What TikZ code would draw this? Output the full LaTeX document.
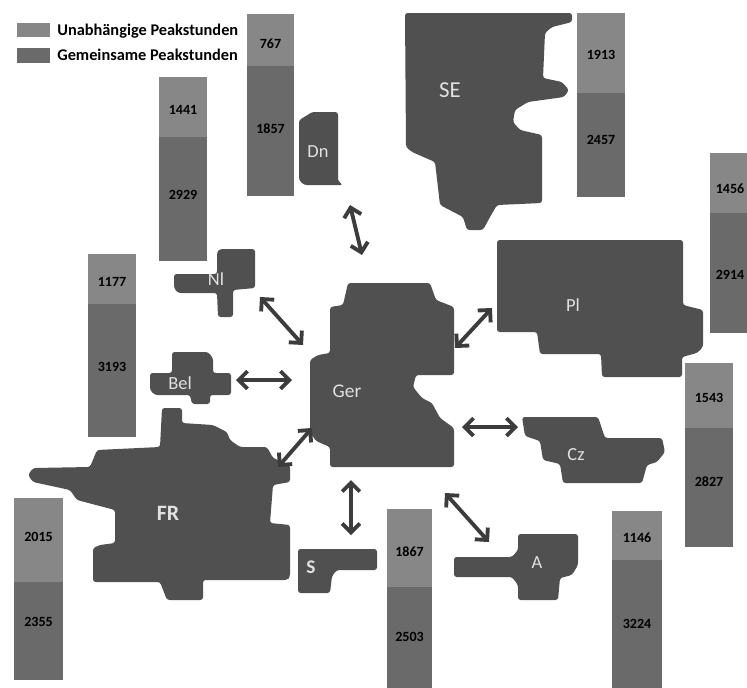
\documentclass[tikz,border=0pt]{standalone}
\usepackage{fontspec}
\setmainfont{Carlito}
\usetikzlibrary{arrows.meta}
\definecolor{lightbar}{RGB}{135,135,135}
\definecolor{darkbar}{RGB}{106,106,106}
\definecolor{land}{RGB}{80,80,80}
\definecolor{arrowgray}{RGB}{60,60,60}
\definecolor{lbl}{RGB}{225,225,225}
\tikzset{
  country/.style={fill=land, draw=none, rounded corners=1.5pt},
  indep/.style={fill=lightbar},
  joint/.style={fill=darkbar},
  num/.style={text=black, font=\bfseries\fontsize{8}{9}\selectfont, inner sep=0pt},
  ctry/.style={text=lbl, font=\fontsize{10.5}{12}\selectfont, inner sep=0pt},
  legtext/.style={text=black, font=\bfseries\fontsize{9.3}{10}\selectfont, anchor=west, inner sep=0pt},
  link/.style={draw=arrowgray, line width=2.2pt,
    {Straight Barb[length=5pt,width=10pt]}-{Straight Barb[length=5pt,width=10pt]}}
}
\begin{document}
\begin{tikzpicture}[x=0.02cm,y=-0.02cm]
\useasboundingbox (0,0) rectangle (747,687);
\clip (0,0) rectangle (747,687);

% legend
\fill[indep] (17,23) rectangle (50,37);
\fill[joint] (17,48) rectangle (50,63);
\node[legtext] (legU) at (57,31) {Unabhängige Peakstunden};
\node[legtext] (legG) at (57,55) {Gemeinsame Peakstunden};

% bars
\fill[indep] (247,14) rectangle (294,66);  \fill[joint] (247,66) rectangle (294,196);
\node[num] (b1u) at (270.5,44) {767};  \node[num] (b1g) at (270.5,129) {1857};

\fill[indep] (159,77) rectangle (207,137); \fill[joint] (159,137) rectangle (207,261);
\node[num] (b2u) at (183,110) {1441}; \node[num] (b2g) at (183,195) {2929};

\fill[indep] (88,254) rectangle (136,304); \fill[joint] (88,304) rectangle (136,437);
\node[num] (b3u) at (112,282) {1177}; \node[num] (b3g) at (112,367) {3193};

\fill[indep] (14,498) rectangle (63,582); \fill[joint] (14,582) rectangle (63,680);
\node[num] (b4u) at (38.5,537) {2015}; \node[num] (b4g) at (38.5,622) {2355};

\fill[indep] (387,509) rectangle (432,587); \fill[joint] (387,587) rectangle (432,695);
\node[num] (b5u) at (409.5,552) {1867}; \node[num] (b5g) at (409.5,637) {2503};

\fill[indep] (612,511) rectangle (662,560); \fill[joint] (612,560) rectangle (662,695);
\node[num] (b6u) at (637,538) {1146}; \node[num] (b6g) at (637,624) {3224};

\fill[indep] (685,363) rectangle (733,428); \fill[joint] (685,428) rectangle (733,547);
\node[num] (b7u) at (709,398) {1543}; \node[num] (b7g) at (709,482) {2827};

\fill[indep] (710,153) rectangle (765,213); \fill[joint] (710,213) rectangle (765,333);
\node[num] (b8u) at (730,189) {1456}; \node[num] (b8g) at (730,275) {2914};

\fill[indep] (577,13) rectangle (625,93); \fill[joint] (577,93) rectangle (625,197);
\node[num] (b9u) at (601,55) {1913}; \node[num] (b9g) at (601,140) {2457};

% countries
% SE
\fill[country] (405,13) -- (572,13) -- (572,22) -- (552,27) -- (545,33) -- (543,78)
  -- (562,82) -- (569,90) -- (564,97) -- (528,102) -- (515,110) -- (513,122)
  -- (520,130) -- (542,135) -- (542,203) -- (497,205) -- (490,217) -- (483,230)
  -- (467,230) -- (463,217) -- (440,205) -- (435,162) -- (412,152) -- (406,147) -- cycle;
% Dn
\fill[country] (299,120) -- (306,116) -- (312,112) -- (338,112) -- (338,181)
  -- (343,185) -- (304,185) -- (299,180) -- cycle;
% Ger
\fill[country] (330,307) -- (343,305) -- (348,283) -- (430,283) -- (436,300)
  -- (454,307) -- (454,375) -- (416,375) -- (413,387) -- (422,398) -- (432,403)
  -- (440,418) -- (454,428) -- (454,467) -- (330,467) -- (330,447) -- (316,441)
  -- (310,432) -- (310,360) -- (318,355) -- (330,353) -- cycle;
% Pl
\fill[country] (497,240) -- (683,240) -- (683,305) -- (703,310) -- (703,347)
  -- (697,353) -- (682,357) -- (682,377) -- (602,377) -- (601,354) -- (540,354)
  -- (537,332) -- (497,332) -- cycle;
% Cz
\fill[country] (522,417) -- (598,417) -- (605,438) -- (662,438) -- (665,452)
  -- (657,462) -- (647,465) -- (642,483) -- (563,483) -- (560,464) -- (543,460)
  -- (540,441) -- (525,436) -- cycle;
% Nl
\fill[country] (174,274) -- (217,274) -- (217,252) -- (220,249) -- (255,249)
  -- (255,288) -- (233,290) -- (233,317) -- (218,317) -- (217,293) -- (178,293)
  -- (174,288) -- cycle;
% Bel
\fill[country] (150,373) -- (172,373) -- (172,352) -- (208,352) -- (213,358)
  -- (213,373) -- (231,373) -- (231,395) -- (210,395) -- (210,404) -- (192,404)
  -- (190,395) -- (155,395) -- (150,390) -- cycle;
% FR
\fill[country] (162,408) -- (182,408) -- (182,423) -- (213,425) -- (227,432)
  -- (230,440) -- (240,447) -- (267,447) -- (273,458) -- (290,465) -- (290,482)
  -- (273,485) -- (270,523) -- (290,525) -- (290,577) -- (287,580) -- (203,580)
  -- (203,600) -- (167,600) -- (160,582) -- (93,582) -- (93,548) -- (100,545)
  -- (115,543) -- (115,510) -- (77,500) -- (70,490) -- (33,482) -- (28,475)
  -- (33,468) -- (90,467) -- (97,450) -- (160,447) -- cycle;
% S
\fill[country] (298,549) -- (377,549) -- (377,570) -- (337,570) -- (332,576)
  -- (330,593) -- (298,593) -- cycle;
% A
\fill[country] (454,557) -- (512,557) -- (518,550) -- (518,534) -- (578,534)
  -- (578,565) -- (572,575) -- (560,578) -- (558,600) -- (518,600) -- (518,585)
  -- (512,577) -- (454,577) -- cycle;

% labels
\node[ctry, font=\fontsize{13}{14}\selectfont] (se) at (450,90) {SE};
\node[ctry] (dn) at (318,152) {Dn};
\node[ctry, font=\fontsize{11}{12}\selectfont] (ger) at (347,391) {Ger};
\node[ctry] (pl) at (573,305) {Pl};
\node[ctry] (cz) at (576,455) {Cz};
\node[ctry] (nl) at (216,279) {Nl};
\node[ctry] (bel) at (180,383) {Bel};
\node[ctry, font=\bfseries\fontsize{12.5}{14}\selectfont] (fr) at (168,513) {FR};
\node[ctry, font=\bfseries\fontsize{11}{12}\selectfont] (s) at (311,567) {S};
\node[ctry] (a) at (537,563) {A};

% connector ends
\coordinate (dnE) at (350,205);  \coordinate (gerDn) at (362,255);
\coordinate (gerPl) at (455,348); \coordinate (plE) at (492,308);
\coordinate (gerCz) at (462,427); \coordinate (czE) at (518,427);
\coordinate (nlE) at (260,297);  \coordinate (gerNl) at (303,345);
\coordinate (belE) at (236,380); \coordinate (gerBel) at (292,380);
\coordinate (frE) at (278,467);  \coordinate (gerFr) at (312,428);
\coordinate (gerS) at (351,480); \coordinate (sE) at (351,535);
\coordinate (gerA) at (445,493); \coordinate (aE) at (489,542);

\draw[link] (dnE) -- (gerDn);
\draw[link] (gerPl) -- (plE);
\draw[link] (gerCz) -- (czE);
\draw[link] (nlE) -- (gerNl);
\draw[link] (belE) -- (gerBel);
\draw[link] (frE) -- (gerFr);
\draw[link] (gerS) -- (sE);
\draw[link] (gerA) -- (aE);
\end{tikzpicture}
\end{document}
